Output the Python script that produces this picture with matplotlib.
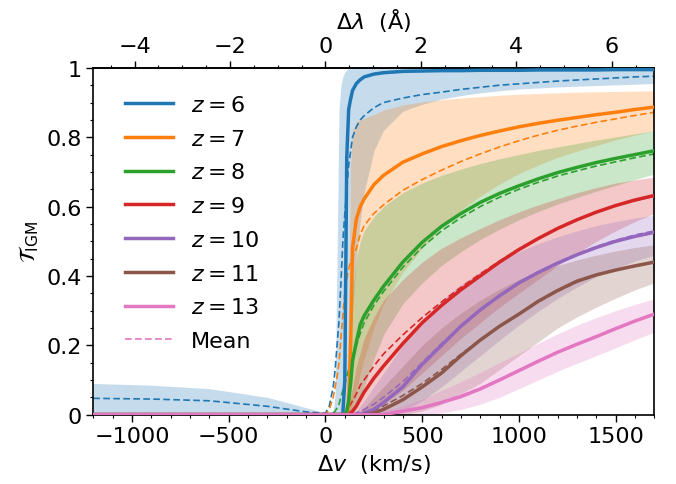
import matplotlib
matplotlib.use("Agg")
import matplotlib.pyplot as plt
from matplotlib.ticker import MultipleLocator, FixedLocator, FuncFormatter

# velocity offset grid (km/s) the curves were read at
dv = [-1200, -900, -600, -300, -100, 0, 20, 40, 50, 60, 70, 80, 90, 100, 110,
      120, 130, 140, 160, 180, 200, 250, 300, 400, 500, 600, 700, 800, 900,
      1000, 1100, 1200, 1300, 1400, 1500, 1600, 1700]

redshifts = [6, 7, 8, 9, 10, 11, 13]
colors = ["tab:blue", "tab:orange", "tab:green", "tab:red", "tab:purple",
          "tab:brown", "tab:pink"]

# z = 6
med6 = [0, 0, 0, 0, 0, 0, 0, 0, 0, 0, 0, 0, 0.005, 0.1, 0.74, 0.88, 0.91, 0.935,
        0.955, 0.966, 0.974, 0.982, 0.986,
        0.99, 0.991, 0.992, 0.992, 0.993, 0.993, 0.993, 0.994, 0.994, 0.994, 0.994,
        0.995, 0.995, 0.995]
mean6 = [0.047, 0.045, 0.04, 0.024, 0.008, 0.004, 0.025, 0.08, 0.13, 0.2, 0.27,
         0.38, 0.5, 0.58, 0.65, 0.72, 0.76, 0.8, 0.83, 0.85, 0.862, 0.885, 0.9,
         0.913, 0.923, 0.93, 0.938, 0.944, 0.95, 0.954, 0.958, 0.962, 0.965, 0.968,
         0.971, 0.974, 0.976]
lo6 = [0, 0, 0, 0, 0, 0, 0, 0, 0, 0, 0, 0, 0, 0, 0.02, 0.1, 0.2, 0.3, 0.45, 0.56,
       0.64, 0.76, 0.82,
       0.875, 0.895, 0.91, 0.92, 0.928, 0.934, 0.939, 0.942, 0.945, 0.947, 0.949,
       0.951, 0.953, 0.955]
hi6 = [0.09, 0.085, 0.075, 0.05, 0.02, 0.005, 0.005, 0.01, 0.06, 0.45, 0.88, 0.95,
       0.975, 0.988, 0.994, 0.997, 1, 1, 1, 1, 1, 1, 1,
       1, 1, 1, 1, 1, 1, 1, 1, 1, 1, 1, 1, 1, 1]

# z = 7
med7 = [0, 0, 0, 0, 0, 0, 0, 0, 0, 0, 0, 0, 0, 0, 0, 0.03, 0.2, 0.48, 0.565, 0.6,
        0.622, 0.663, 0.69,
        0.728, 0.752, 0.773, 0.79, 0.805, 0.818, 0.83, 0.84, 0.849, 0.857, 0.865,
        0.872, 0.88, 0.887]
mean7 = [0, 0, 0, 0, 0, 0, 0.015, 0.05, 0.08, 0.11, 0.15, 0.22, 0.29, 0.35, 0.39,
         0.42, 0.44, 0.455, 0.48, 0.52, 0.545, 0.58, 0.605,
         0.647, 0.678, 0.705, 0.73, 0.752, 0.772, 0.79, 0.806, 0.82, 0.832, 0.843,
         0.853, 0.863, 0.872]
lo7 = [0, 0, 0, 0, 0, 0, 0, 0, 0, 0, 0, 0, 0, 0, 0, 0, 0.01, 0.03, 0.07, 0.12,
       0.16, 0.25, 0.32,
       0.41, 0.48, 0.54, 0.59, 0.63, 0.665, 0.695, 0.72, 0.742, 0.76, 0.776,
       0.792, 0.806, 0.819]
hi7 = [0, 0, 0, 0, 0, 0, 0, 0, 0, 0, 0, 0, 0, 0.02, 0.1, 0.3, 0.72, 0.82, 0.845,
       0.85, 0.855, 0.865, 0.878,
       0.893, 0.902, 0.908, 0.913, 0.917, 0.921, 0.924, 0.926, 0.928, 0.93, 0.931,
       0.932, 0.933, 0.934]

# z = 8
med8 = [0, 0, 0, 0, 0, 0, 0, 0, 0, 0, 0, 0, 0, 0, 0.01, 0.04, 0.09, 0.155, 0.21,
        0.26, 0.285, 0.33, 0.37,
        0.44, 0.497, 0.543, 0.58, 0.612, 0.638, 0.66, 0.68, 0.698, 0.713, 0.727,
        0.739, 0.75, 0.761]
mean8 = [0, 0, 0, 0, 0, 0, 0, 0.005, 0.01, 0.02, 0.03, 0.05, 0.07, 0.09, 0.11,
         0.13, 0.15, 0.17, 0.2, 0.235, 0.265, 0.315, 0.355,
         0.425, 0.483, 0.53, 0.568, 0.6, 0.627, 0.65, 0.67, 0.688, 0.703, 0.717,
         0.729, 0.741, 0.752]
lo8 = [0, 0, 0, 0, 0, 0, 0, 0, 0, 0, 0, 0, 0, 0, 0, 0, 0, 0, 0.02, 0.05, 0.08,
       0.16, 0.23,
       0.32, 0.38, 0.43, 0.47, 0.505, 0.535, 0.562, 0.586, 0.607, 0.626, 0.644,
       0.661, 0.678, 0.694]
hi8 = [0, 0, 0, 0, 0, 0, 0, 0, 0, 0, 0, 0, 0, 0, 0.02, 0.1, 0.25, 0.35, 0.45, 0.5,
       0.53, 0.57, 0.6,
       0.64, 0.668, 0.69, 0.708, 0.724, 0.738, 0.75, 0.762, 0.772, 0.782, 0.792,
       0.801, 0.81, 0.819]

# z = 9
med9 = [0, 0, 0, 0, 0, 0, 0, 0, 0, 0, 0, 0, 0, 0, 0, 0, 0.005, 0.01, 0.025, 0.045,
        0.065, 0.105, 0.14,
        0.205, 0.265, 0.315, 0.36, 0.4, 0.44, 0.476, 0.508, 0.537, 0.562, 0.584,
        0.603, 0.619, 0.632]
mean9 = [0, 0, 0, 0, 0, 0, 0, 0, 0, 0, 0, 0, 0, 0.005, 0.01, 0.02, 0.03, 0.04,
         0.06, 0.085, 0.1, 0.14, 0.175,
         0.23, 0.28, 0.325, 0.367, 0.406, 0.443, 0.478, 0.509, 0.537, 0.562, 0.584,
         0.602, 0.617, 0.63]
lo9 = [0, 0, 0, 0, 0, 0, 0, 0, 0, 0, 0, 0, 0, 0, 0, 0, 0, 0, 0, 0, 0, 0.01, 0.03,
       0.07, 0.12, 0.17, 0.22, 0.265, 0.31, 0.35, 0.39, 0.43, 0.465, 0.5,
       0.53, 0.557, 0.58]
hi9 = [0, 0, 0, 0, 0, 0, 0, 0, 0, 0, 0, 0, 0, 0, 0, 0.02, 0.05, 0.08, 0.14, 0.18,
       0.22, 0.28, 0.33,
       0.39, 0.44, 0.48, 0.51, 0.537, 0.562, 0.585, 0.605, 0.623, 0.64, 0.655,
       0.668, 0.677, 0.685]

# z = 10
med10 = [0, 0, 0, 0, 0, 0, 0, 0, 0, 0, 0, 0, 0, 0, 0, 0, 0, 0, 0, 0, 0.005, 0.015,
         0.035,
         0.08, 0.145, 0.2, 0.255, 0.302, 0.343, 0.38, 0.41, 0.437, 0.461, 0.482,
         0.5, 0.514, 0.526]
mean10 = [0, 0, 0, 0, 0, 0, 0, 0, 0, 0, 0, 0, 0, 0, 0, 0, 0, 0, 0.005, 0.01, 0.015,
          0.03, 0.05,
          0.095, 0.15, 0.205, 0.257, 0.303, 0.344, 0.381, 0.412, 0.439, 0.463,
          0.485, 0.503, 0.518, 0.53]
lo10 = [0, 0, 0, 0, 0, 0, 0, 0, 0, 0, 0, 0, 0, 0, 0, 0, 0, 0, 0, 0, 0, 0, 0,
        0.01, 0.04, 0.08, 0.125, 0.17, 0.215, 0.258, 0.298, 0.335, 0.368, 0.398,
        0.422, 0.443, 0.46]
hi10 = [0, 0, 0, 0, 0, 0, 0, 0, 0, 0, 0, 0, 0, 0, 0, 0, 0, 0, 0.01, 0.025, 0.04,
        0.08, 0.12,
        0.2, 0.27, 0.33, 0.375, 0.412, 0.443, 0.47, 0.493, 0.513, 0.53, 0.545,
        0.557, 0.567, 0.575]

# z = 11
med11 = [0, 0, 0, 0, 0, 0, 0, 0, 0, 0, 0, 0, 0, 0, 0, 0, 0, 0, 0, 0, 0, 0.005,
         0.015,
         0.043, 0.08, 0.12, 0.17, 0.215, 0.255, 0.29, 0.327, 0.358, 0.385, 0.403,
         0.417, 0.429, 0.44]
mean11 = [0, 0, 0, 0, 0, 0, 0, 0, 0, 0, 0, 0, 0, 0, 0, 0, 0, 0, 0, 0, 0.005, 0.012,
          0.025,
          0.055, 0.09, 0.13, 0.174, 0.216, 0.255, 0.29, 0.325, 0.356, 0.382, 0.402,
          0.417, 0.429, 0.438]
lo11 = [0, 0, 0, 0, 0, 0, 0, 0, 0, 0, 0, 0, 0, 0, 0, 0, 0, 0, 0, 0, 0, 0, 0,
        0, 0.01, 0.03, 0.06, 0.09, 0.13, 0.17, 0.21, 0.25, 0.282, 0.31,
        0.336, 0.36, 0.38]
hi11 = [0, 0, 0, 0, 0, 0, 0, 0, 0, 0, 0, 0, 0, 0, 0, 0, 0, 0, 0, 0.01, 0.02, 0.05,
        0.08,
        0.14, 0.2, 0.25, 0.293, 0.33, 0.362, 0.39, 0.412, 0.43, 0.446, 0.46,
        0.472, 0.482, 0.49]

# z = 13
med13 = [0, 0, 0, 0, 0, 0, 0, 0, 0, 0, 0, 0, 0, 0, 0, 0, 0, 0, 0, 0, 0, 0, 0,
         0.01, 0.02, 0.035, 0.052, 0.074, 0.1, 0.127, 0.154, 0.18, 0.203, 0.225,
         0.248, 0.27, 0.29]
mean13 = [0, 0, 0, 0, 0, 0, 0, 0, 0, 0, 0, 0, 0, 0, 0, 0, 0, 0, 0, 0, 0, 0, 0.003,
          0.012, 0.022, 0.037, 0.055, 0.077, 0.102, 0.129, 0.156, 0.181, 0.204,
          0.226, 0.249, 0.27, 0.29]
lo13 = [0, 0, 0, 0, 0, 0, 0, 0, 0, 0, 0, 0, 0, 0, 0, 0, 0, 0, 0, 0, 0, 0, 0,
        0, 0, 0.005, 0.015, 0.03, 0.05, 0.075, 0.1, 0.125, 0.148, 0.17,
        0.193, 0.216, 0.238]
hi13 = [0, 0, 0, 0, 0, 0, 0, 0, 0, 0, 0, 0, 0, 0, 0, 0, 0, 0, 0, 0, 0, 0.005, 0.01,
        0.025, 0.045, 0.07, 0.095, 0.122, 0.15, 0.178, 0.206, 0.233, 0.258, 0.28,
        0.3, 0.318, 0.334]

medians = [med6, med7, med8, med9, med10, med11, med13]
means = [mean6, mean7, mean8, mean9, mean10, mean11, mean13]
lows = [lo6, lo7, lo8, lo9, lo10, lo11, lo13]
highs = [hi6, hi7, hi8, hi9, hi10, hi11, hi13]

c_kms = 299792.458
lya = 1215.67

fig = plt.figure(figsize=(6.76, 4.85), dpi=100)
ax = fig.add_axes([0.138, 0.143, 0.830, 0.715])

for lo, hi, c in zip(lows, highs, colors):
    ax.fill_between(dv, lo, hi, color=c, alpha=0.25, lw=0, zorder=1)

for z, med, mn, c in zip(redshifts, medians, means, colors):
    ax.plot(dv, med, color=c, lw=2.5, zorder=3, label=r"$z = %d$" % z)
    ax.plot(dv, mn, color=c, lw=1.2, ls=(0, (4, 2)), zorder=2)

ax.plot([], [], color="tab:pink", lw=1.2, ls=(0, (4, 2)), label="Mean")

ax.set_xlim(-1200, 1700)
ax.set_ylim(0, 1)
ax.xaxis.set_major_locator(MultipleLocator(500))
ax.xaxis.set_minor_locator(MultipleLocator(100))
ax.yaxis.set_major_locator(MultipleLocator(0.2))
ax.yaxis.set_minor_locator(MultipleLocator(0.05))
ax.yaxis.set_major_formatter(FuncFormatter(lambda y, p: "%g" % round(y, 2)))
ax.tick_params(which="both", direction="out", labelsize=16, top=False, right=False)
ax.tick_params(which="major", length=5, width=1)
ax.tick_params(which="minor", length=2.5, width=0.8)
for s in ax.spines.values():
    s.set_linewidth(1.2)

ax.set_xlabel(r"$\Delta v\ $ (km/s)", fontsize=16, labelpad=4)
ax.set_ylabel(r"$\mathcal{T}_{\rm IGM}$", fontsize=16, labelpad=4)

top = ax.secondary_xaxis("top", functions=(lambda v: v / c_kms * lya,
                                           lambda l: l / lya * c_kms))
top.xaxis.set_major_locator(FixedLocator([-4, -2, 0, 2, 4, 6]))
top.xaxis.set_minor_locator(FixedLocator([-4.5, -3.5, -3, -2.5, -1.5, -1, -0.5,
                                          0.5, 1, 1.5, 2.5, 3, 3.5, 4.5, 5, 5.5,
                                          6.5]))
top.tick_params(which="both", direction="out", labelsize=16)
top.tick_params(which="major", length=5, width=1)
top.tick_params(which="minor", length=2.5, width=0.8)
top.spines["top"].set_linewidth(1.2)
top.set_xlabel(r"$\Delta\lambda\ $ (Å)", fontsize=16, labelpad=6)

ax.legend(loc="upper left", frameon=False, fontsize=16, labelspacing=0.62,
          handlelength=2.2, bbox_to_anchor=(0.02, 0.98))

fig.savefig("out.png", dpi=100)
